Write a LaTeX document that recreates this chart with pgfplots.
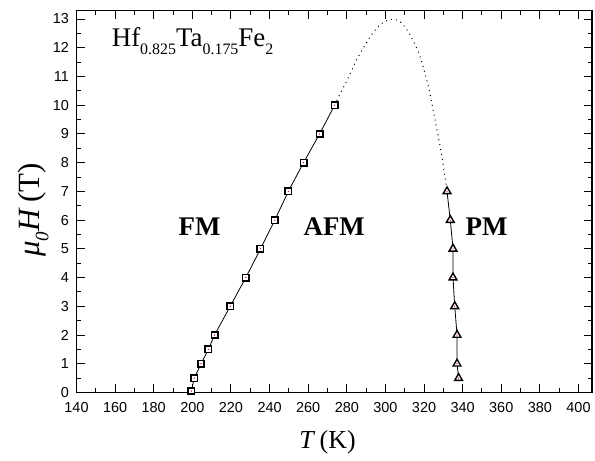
\documentclass[border=0pt]{standalone}
\usepackage{fontspec}
\setmainfont{Liberation Serif}
\newfontfamily\arial{Liberation Sans}
\usepackage{pgfplots}
\pgfplotsset{compat=1.18}
\newcommand\sub[1]{\raisebox{-0.28em}{\fontsize{16}{16}\selectfont #1}}
\newcommand\subl[1]{\raisebox{-0.28em}{\fontsize{19}{19}\selectfont #1}}
\begin{document}
\begin{tikzpicture}
\path[use as bounding box] (0,0) rectangle (595bp,461bp);
\begin{axis}[
  at={(76.5bp,68.5bp)}, anchor=south west,
  scale only axis, width=515.5bp, height=381.8bp,
  xmin=140, xmax=407, ymin=0, ymax=13.29,
  xtick={140,160,...,400}, minor x tick num=1,
  ytick={0,...,13}, minor y tick num=1,
  tick align=inside,
  major tick length=8bp, minor tick length=4bp,
  axis line style={line width=1.3bp},
  every tick/.style={black, line width=1bp},
  /pgf/number format/assume math mode=true,
  ticklabel style={font=\arial\fontsize{14.5}{14.5}\selectfont},
  xticklabel style={yshift=-6bp},
  yticklabel style={xshift=-4bp},
  xlabel={\textit{T}\,(K)},
  ylabel={\textit{μ\subl{0}H}\,(T)},
  xlabel style={font=\fontsize{26}{26}\selectfont, at={(axis description cs:0.487,-0.131)}, anchor=center},
  ylabel style={font=\fontsize{31}{31}\selectfont, at={(axis description cs:-0.0834,0.478)}, anchor=center},
  clip=false,
]
% dotted extrapolated boundary
\addplot[black, line width=1bp, dash pattern=on 1bp off 4bp, smooth, tension=0.5] coordinates {
(273.7,10) (276.6,10.41) (279.7,10.81) (282.6,11.22) (285.4,11.63) (288.9,12.03)
(292.7,12.44) (297,12.79) (301.3,12.96) (303.9,12.99) (307.4,12.92) (311.4,12.6)
(315.1,12.15) (317.9,11.7) (320.3,11.16) (322.5,10.58) (324.6,9.87) (327.1,9.01)
(329,8.32) (330.6,7.62) (331.9,7.01)};
% FM-AFM boundary
\addplot[black, line width=0.8bp, mark=square*, mark size=3.2bp,
  mark options={solid, fill=white, draw=black, line width=1.6bp}] coordinates {
(199.5,0.05) (201,0.5) (204.5,1) (208.3,1.5) (211.5,2) (219.6,3) (227.7,4)
(235.3,5) (242.7,6) (249.7,7) (257.6,8) (265.9,9) (273.7,10)};
\addplot[only marks, mark=*, mark size=0.35bp, red!80!black] coordinates {
(199.5,0.05) (201,0.5) (204.5,1) (208.3,1.5) (211.5,2) (219.6,3) (227.7,4)
(235.3,5) (242.7,6) (249.7,7) (257.6,8) (265.9,9) (273.7,10)};
% AFM-PM boundary
\addplot[black, line width=0.8bp, mark=triangle*, mark size=4.5bp,
  mark options={solid, fill=white, draw=black, line width=1.4bp}] coordinates {
(331.9,7) (333.6,6) (335,5) (335,4) (335.9,3) (337.1,2) (337.1,1) (337.9,0.5)};
\addplot[only marks, mark=*, mark size=0.3bp, red!80!black] coordinates {
(331.9,7) (333.6,6) (335,5) (335,4) (335.9,3) (337.1,2) (337.1,1) (337.9,0.5)};
\node[anchor=base west, inner sep=0pt, font=\fontsize{27}{27}\selectfont] at (axis cs:158.2,12.04)
  {Hf\sub{0.825}Ta\sub{0.175}Fe\sub{2}};
\node[font=\fontsize{27}{27}\selectfont\bfseries] at (axis cs:203.7,5.78) {FM};
\node[font=\fontsize{27}{27}\selectfont\bfseries] at (axis cs:273.5,5.78) {AFM};
\node[font=\fontsize{27}{27}\selectfont\bfseries] at (axis cs:352.4,5.78) {PM};
\end{axis}
\end{tikzpicture}
\end{document}
